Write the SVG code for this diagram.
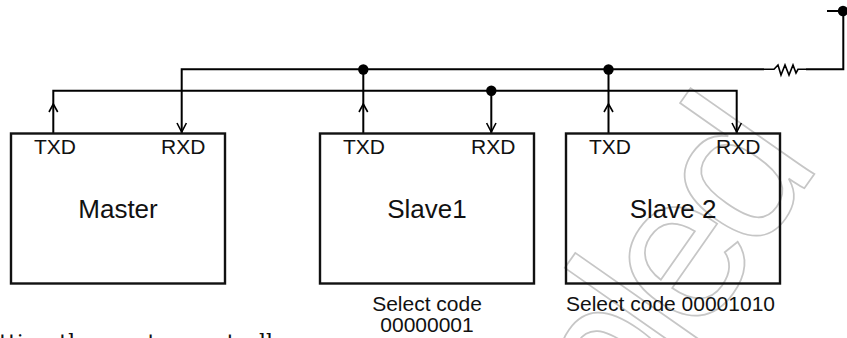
<svg xmlns="http://www.w3.org/2000/svg" width="847" height="338" viewBox="0 0 847 338">
<style>
.b{fill:none;stroke:#111;stroke-width:2.4}
.w{fill:none;stroke:#000;stroke-width:2}
.a{fill:none;stroke:#000;stroke-width:1.6}
.d{fill:#000}
text{font-family:"Liberation Sans",Arial,sans-serif;fill:#111}
.s{font-size:21px}
.m{font-size:26px}
</style>
<rect width="847" height="338" fill="#fff"/>
<text transform="translate(680 366) rotate(-55)" x="-483" y="0" style="font-size:208px;letter-spacing:-15px;fill:none;stroke:#c6c6c6;stroke-width:1.7">Sampled</text>
<g id="connectors">
<path class="w" d="M53.300 133V90.700H736.700V133"/>
<path class="w" d="M181.700 133V69.300H764M806 69.300H843.300V11M827 11H843.300"/>
<path class="w" d="M363.300 133V69.300M491.300 91V133M608.500 133V69.300"/>
<path class="a" d="M764 69.300H774L778 65L781 75L785 65L789 75L793 65L796 73L798 69.300H806"/>
<path class="a" d="M49 112L53.300 104L57.700 112M177 123L181.700 132L186.400 123M359 112L363.300 104L367.700 112M486.600 123L491.300 132L496 123M604 112L608.500 104L613 112M732 123L736.700 132L741.400 123"/>
<circle class="d" cx="363.300" cy="69.500" r="5.200"/>
<circle class="d" cx="491.300" cy="90.700" r="5.200"/>
<circle class="d" cx="608.500" cy="69.500" r="5.200"/>
<circle class="d" cx="843" cy="11" r="5.200"/>
</g>
<g id="master">
<rect class="b" x="11" y="133.500" width="214" height="150"/>
<text class="s" x="34" y="154">TXD</text>
<text class="s" x="161" y="154">RXD</text>
<text class="m" x="118" y="218" text-anchor="middle">Master</text>
</g>
<g id="slave1">
<rect class="b" x="320" y="133.500" width="214" height="150"/>
<text class="s" x="343" y="154">TXD</text>
<text class="s" x="471" y="154">RXD</text>
<text class="m" x="427" y="218" text-anchor="middle">Slave1</text>
<text class="s" x="427" y="311" text-anchor="middle">Select code</text>
<text class="s" x="427" y="332" text-anchor="middle">00000001</text>
</g>
<g id="slave2">
<rect class="b" x="566" y="133.500" width="214" height="150"/>
<text class="s" x="589" y="154">TXD</text>
<text class="s" x="716" y="154">RXD</text>
<text class="m" x="673" y="218" text-anchor="middle">Slave 2</text>
<text class="s" x="566" y="311">Select code 00001010</text>
</g>
<text x="-29" y="350" style="font-family:'DejaVu Serif',serif;font-size:22px">Setting the master controller</text>
</svg>
